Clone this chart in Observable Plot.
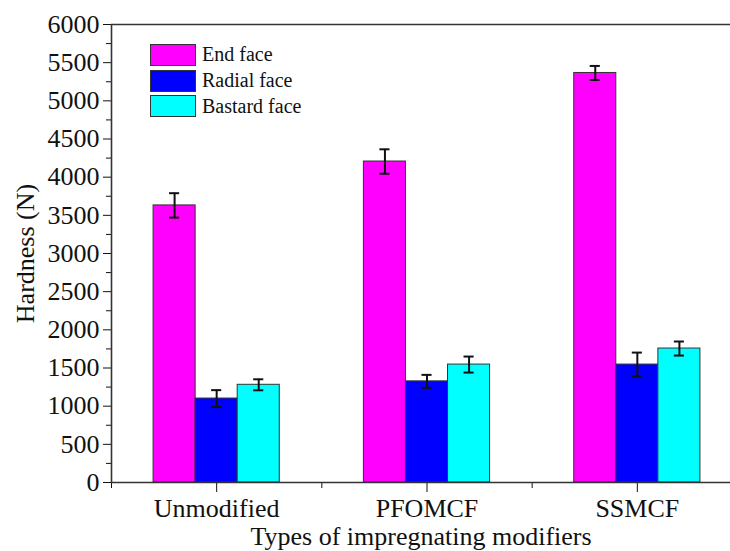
<!DOCTYPE html>
<html><head><meta charset="utf-8">
<script src="https://cdn.jsdelivr.net/npm/d3@7"></script>
<script src="https://cdn.jsdelivr.net/npm/@observablehq/plot@0.6"></script>
<style>
body{margin:0;background:#fff;}
#wrap{position:relative;width:730px;height:551px;overflow:hidden;}
#legend{position:absolute;left:150px;top:42px;color:#111;}
#legend, #legend span{font-family:'Liberation Serif','Times New Roman',serif;font-size:20px;}
.row{display:flex;align-items:center;height:25.7px;}
.sw{width:44px;height:20px;border:1px solid #333;margin-right:6px;}
</style></head><body><div id="wrap"><div id="legend"></div></div>
<script>
const categories = ["Unmodified", "PFOMCF", "SSMCF"];
const series = ["End face", "Radial face", "Bastard face"];
const colors = ["#FF00FF", "#0000FF", "#00FFFF"];
const endFace = [3630, 4205, 5365];
const endFaceErr = [160, 160, 92];
const radialFace = [1100, 1325, 1545];
const radialFaceErr = [110, 85, 157];
const bastardFace = [1280, 1545, 1755];
const bastardFaceErr = [72, 105, 92];
const yTicks = [0, 500, 1000, 1500, 2000, 2500, 3000, 3500, 4000, 4500, 5000, 5500, 6000];

const values = [endFace, radialFace, bastardFace];
const errs = [endFaceErr, radialFaceErr, bastardFaceErr];
const rows = [];
categories.forEach((c, gi) => {
  series.forEach((s, si) => {
    const x1 = gi + 0.2 + si * 0.2;
    rows.push({category: c, series: s, x1, x2: x1 + 0.2, xc: x1 + 0.1,
      value: values[si][gi], lo: values[si][gi] - errs[si][gi], hi: values[si][gi] + errs[si][gi]});
  });
});
const capHalf = 0.024;
const font = "'Liberation Serif','Times New Roman',serif";
const noLabel = () => "";

const chart = Plot.plot({
  width: 730, height: 551,
  marginLeft: 111, marginTop: 24, marginBottom: 69, marginRight: 0,
  style: {fontFamily: font, fontSize: "26px", color: "#111", background: "#fff"},
  x: {domain: [0, 3], range: [111, 742]},
  y: {domain: [0, 6000]},
  color: {domain: series, range: colors},
  marks: [
    Plot.rectY(rows, {x1: "x1", x2: "x2", y1: 0, y2: "value", fill: "series", stroke: "#333", strokeWidth: 1}),
    Plot.ruleX(rows, {x: "xc", y1: "lo", y2: "hi", stroke: "#111", strokeWidth: 2}),
    Plot.ruleY(rows, {x1: d => d.xc - capHalf, x2: d => d.xc + capHalf, y: "lo", stroke: "#111", strokeWidth: 2}),
    Plot.ruleY(rows, {x1: d => d.xc - capHalf, x2: d => d.xc + capHalf, y: "hi", stroke: "#111", strokeWidth: 2}),
    Plot.axisY({ticks: yTicks, tickSize: 8, tickPadding: 4, tickFormat: d => String(d), fontSize: 26, stroke: "#111",
      label: "Hardness (N)", labelAnchor: "center", labelOffset: 96, labelArrow: "none"}),
    Plot.axisY({ticks: d3.range(250, 6000, 500), tickSize: 5, tickFormat: noLabel, label: null, stroke: "#111"}),
    Plot.axisX({ticks: [0.5, 1.5, 2.5], tickFormat: d => categories[Math.floor(d)], tickSize: 10, tickPadding: 6,
      fontSize: 26, stroke: "#111", label: "Types of impregnating modifiers", labelAnchor: "center", labelOffset: 62, labelArrow: "none"}),
    Plot.axisX({ticks: [0, 1, 2, 3], tickSize: 6, tickFormat: noLabel, label: null, stroke: "#111"}),
    Plot.ruleY([0, 6000], {stroke: "#333", strokeWidth: 1.6}),
    Plot.ruleX([0], {stroke: "#333", strokeWidth: 1.6})
  ]
});
document.getElementById("wrap").prepend(chart);

const legend = document.getElementById("legend");
series.forEach((s, i) => {
  const row = document.createElement("div");
  row.className = "row";
  const sw = document.createElement("div");
  sw.className = "sw";
  sw.style.background = colors[i];
  const t = document.createElement("span");
  t.textContent = s;
  row.append(sw, t);
  legend.append(row);
});
</script></body></html>
